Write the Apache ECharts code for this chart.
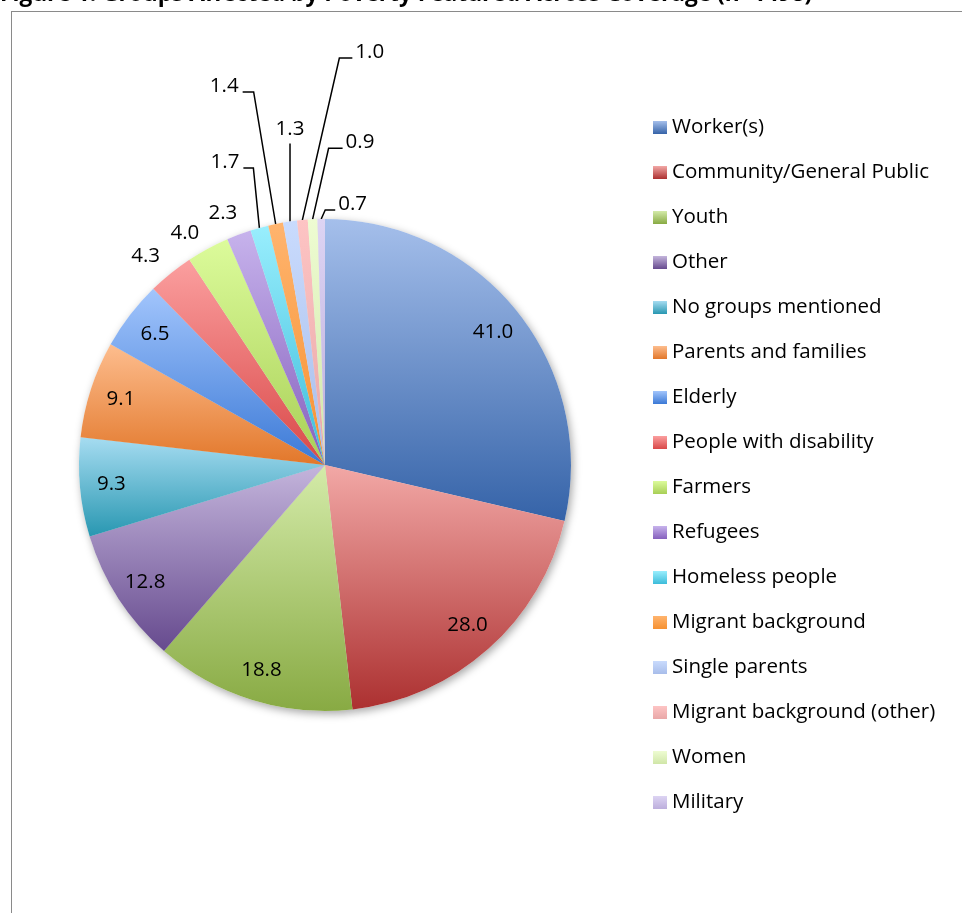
<!DOCTYPE html>
<html>
<head>
<meta charset="utf-8">
<script src="https://cdn.jsdelivr.net/npm/echarts@6/dist/echarts.min.js"></script>
<style>
html,body{margin:0;padding:0;background:#fff;overflow:hidden;}
#frame{position:absolute;left:11px;top:11px;width:2000px;height:2000px;border-left:1.5px solid #8a8a8a;border-top:1.5px solid #8a8a8a;}
#chart{position:absolute;left:0;top:0;width:962px;height:913px;}
</style>
</head>
<body>
<div id="frame"></div>
<div id="chart"></div>
<script>
// ---- data ----
const titleText = 'Figure 1: Groups Affected by Poverty Featured Across Coverage (n=1498)';
const categories = [
  'Worker(s)', 'Community/General Public', 'Youth', 'Other', 'No groups mentioned',
  'Parents and families', 'Elderly', 'People with disability', 'Farmers', 'Refugees',
  'Homeless people', 'Migrant background', 'Single parents', 'Migrant background (other)',
  'Women', 'Military'
];
const values = [41.0, 28.0, 18.8, 12.8, 9.3, 9.1, 6.5, 4.3, 4.0, 2.3, 1.7, 1.4, 1.3, 1.0, 0.9, 0.7];

// ---- styles ----
const colorTop = ['#a5bfeb','#f2a8a6','#d4eba9','#c4b5dc','#a6dcf1','#fdbd8e','#a2c5fc','#fb9f9f',
                  '#dcfb9b','#c7b3ec','#99eefd','#ffb46e','#c9dbfd','#fdc4c4','#eefcd2','#ddd4f3'];
const colorBottom = ['#3563a8','#ac3030','#88aa43','#664a8e','#2897b1','#e2772a','#3b79d6','#d94848',
                     '#a8cf56','#8560bd','#3cbcda','#f69131','#a8bdea','#e9a7a7','#d0e6a8','#bcaedc'];
const insideCount = 7;           // slices labelled inside
// label guide offsets (relative to slice edge midpoint): free labels have no line
const guides = {
  7:  {free: true, dx: -25, dy: -17},
  8:  {free: true, dx: -23, dy: -16},
  9:  {free: true, dx: -16, dy: -21},
  10: {dx: -6,  dy: -60,  h: -10},
  11: {dx: -22, dy: -132, h: -11},
  12: {dx: 0,   dy: -78,  h: 0},
  13: {dx: 37,  dy: -162, h: 13},
  14: {dx: 16,  dy: -71,  h: 14},
  15: {dx: 4,   dy: -9,   h: 10}
};
const FONT = 'Open Sans';
const FS = 20.5;
const CENTER = [325, 465];
const R = 246;

const chart = echarts.init(document.getElementById('chart'), null, {renderer: 'canvas'});

function grad(i) {
  return new echarts.graphic.LinearGradient(0, 0, 0, 1, [
    {offset: 0, color: colorTop[i]}, {offset: 1, color: colorBottom[i]}
  ]);
}

const mainData = categories.map((name, i) => ({
  name: name,
  value: values[i],
  itemStyle: {color: grad(i)},
  label: {show: i >= insideCount},
  labelLine: {show: i >= insideCount}
}));

const option = {
  animation: false,
  backgroundColor: 'transparent',
  title: {
    text: titleText,
    left: 0,
    top: -17,
    padding: 0,
    textStyle: {fontFamily: FONT, fontWeight: 'bold', fontSize: 22.7, color: '#000'}
  },
  legend: {
    orient: 'vertical',
    left: 653,
    top: 117,
    padding: 0,
    icon: 'rect',
    itemWidth: 14,
    itemHeight: 13,
    itemGap: 24,
    selectedMode: false,
    data: categories,
    textStyle: {fontFamily: FONT, fontSize: FS, color: '#000', lineHeight: 20}
  },
  series: [
    {
      type: 'pie',
      name: 'main',
      z: 2,
      center: CENTER,
      radius: R,
      startAngle: 90,
      clockwise: true,
      avoidLabelOverlap: false,
      emphasis: {disabled: true},
      itemStyle: {borderWidth: 0},
      label: {
        position: 'outside',
        fontFamily: FONT,
        fontSize: FS,
        color: '#000',
        formatter: p => p.value.toFixed(1)
      },
      labelLine: {length: 10, length2: 10, smooth: false, lineStyle: {color: '#000', width: 1.5}},
      labelLayout: function (p) {
        const g = guides[p.dataIndex];
        if (!g || !p.labelLinePoints) return {};
        const a = p.labelLinePoints[0];
        if (g.free) {
          return {x: a[0] + g.dx, y: a[1] + g.dy, align: 'center', verticalAlign: 'middle',
                  labelLinePoints: [a, a, a]};
        }
        const e = [a[0] + g.dx, a[1] + g.dy];
        if (g.h === 0) {
          return {x: e[0], y: e[1] - 14, align: 'center', verticalAlign: 'middle',
                  labelLinePoints: [a, e, e]};
        }
        const end = [e[0] + g.h, e[1]];
        return {x: end[0] + (g.h < 0 ? -4 : 3), y: e[1] - 6,
                align: g.h < 0 ? 'right' : 'left', verticalAlign: 'middle',
                labelLinePoints: [a, e, end]};
      },
      data: mainData
    },
    {
      type: 'pie',
      name: 'shadow',
      z: 1,
      silent: true,
      center: CENTER,
      radius: R,
      startAngle: 90,
      clockwise: true,
      label: {show: false},
      labelLine: {show: false},
      emphasis: {disabled: true},
      itemStyle: {color: '#fff', shadowColor: 'rgba(0,0,0,0.35)', shadowBlur: 8, shadowOffsetX: 2, shadowOffsetY: 3},
      data: categories.map((name, i) => ({name: name, value: values[i]}))
    },
    {
      type: 'pie',
      name: 'insideLabels',
      z: 3,
      silent: true,
      center: CENTER,
      radius: [Math.round(R * 0.72), R],
      startAngle: 90,
      clockwise: true,
      avoidLabelOverlap: false,
      emphasis: {disabled: true},
      itemStyle: {color: 'rgba(0,0,0,0)'},
      labelLine: {show: false},
      label: {
        position: 'inside',
        fontFamily: FONT,
        fontSize: FS,
        color: '#000',
        formatter: p => p.value.toFixed(1)
      },
      data: categories.map((name, i) => ({
        name: name, value: values[i], label: {show: i < insideCount}
      }))
    }
  ]
};
chart.setOption(option);
</script>
</body>
</html>
